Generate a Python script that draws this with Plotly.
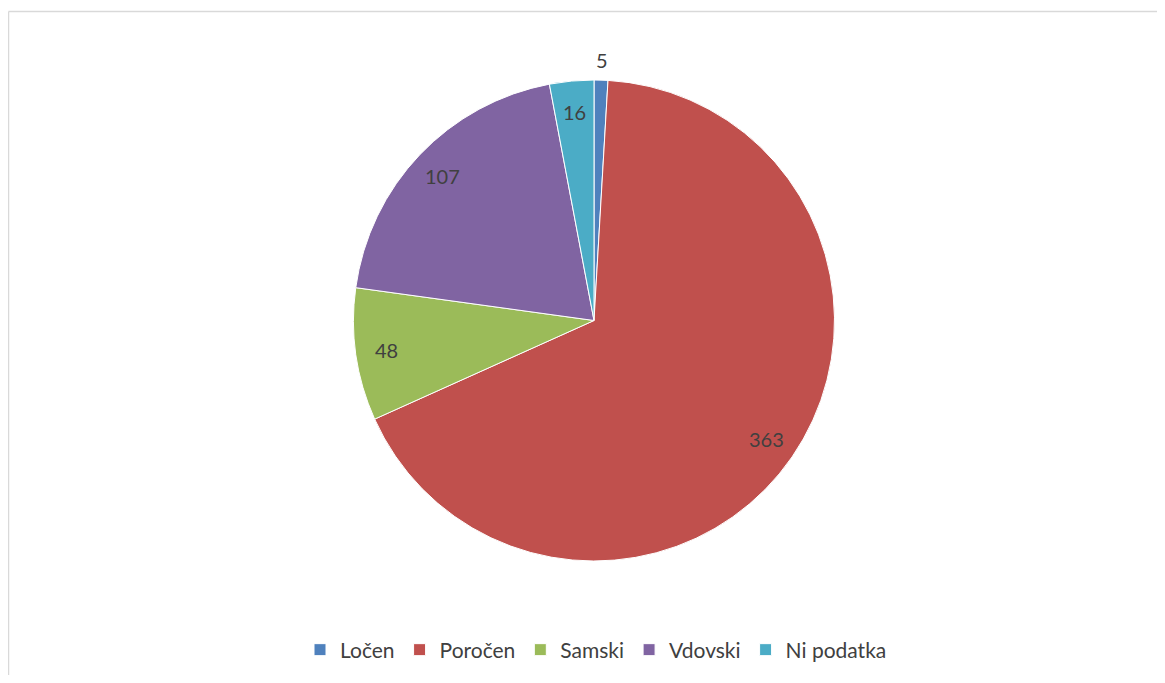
import math
import plotly.graph_objects as go

categories = ["Ločen", "Poročen", "Samski", "Vdovski", "Ni podatka"]
values = [5, 363, 48, 107, 16]
colors = ["#4F81BD", "#C0504D", "#9BBB59", "#8064A2", "#4BACC6"]

# page has an 8px body margin, so work in figure-local pixels
OFF = 8
W, H = 1165 - 2 * OFF, 683 - 2 * OFF
cx, cy, R = 594 - OFF, 320.5 - OFF, 240.5

FONT = "Lato, Open Sans, sans-serif"

fig = go.Figure()
fig.add_trace(go.Pie(
    labels=categories,
    values=values,
    sort=False,
    direction="clockwise",
    rotation=0,
    marker=dict(colors=colors, line=dict(color="#ffffff", width=1)),
    textinfo="none",
    hoverinfo="label+value",
    domain=dict(x=[(cx - R) / W, (cx + R) / W], y=[1 - (cy + R) / H, 1 - (cy - R) / H]),
    showlegend=True,
))

# data labels placed at slice mid-angles computed from the values
total = sum(values)
start = 0.0
annotations = []
for cat, v in zip(categories, values):
    span = v / total * 360
    mid = math.radians(start + span / 2)
    start += span
    frac = 1.085 if v / total < 0.02 else 0.87
    px = cx + R * frac * math.sin(mid)
    py = cy - R * frac * math.cos(mid)
    annotations.append(dict(
        x=px / W, y=1 - py / H, xref="paper", yref="paper",
        text=str(v), showarrow=False,
        font=dict(family=FONT, size=20, color="#404040"),
        xanchor="center", yanchor="middle",
    ))

bx, by = 8.5 - OFF, 11.5 - OFF
fig.update_layout(
    width=W, height=H,
    margin=dict(l=0, r=0, t=0, b=0),
    paper_bgcolor="#ffffff",
    plot_bgcolor="#ffffff",
    annotations=annotations,
    legend=dict(
        orientation="h",
        x=(596 - OFF) / W, xanchor="center",
        y=1 - (650 - OFF) / H, yanchor="middle",
        font=dict(family=FONT, size=21, color="#404040"),
        itemwidth=30,
        tracegroupgap=0,
    ),
    shapes=[
        dict(type="line", xref="paper", yref="paper",
             x0=bx / W, x1=1.0, y0=1 - by / H, y1=1 - by / H,
             line=dict(color="#d9d9d9", width=1.5), layer="below"),
        dict(type="line", xref="paper", yref="paper",
             x0=bx / W, x1=bx / W, y0=1 - by / H, y1=0,
             line=dict(color="#d9d9d9", width=1.5), layer="below"),
    ],
)

fig.write_html("out.html")
